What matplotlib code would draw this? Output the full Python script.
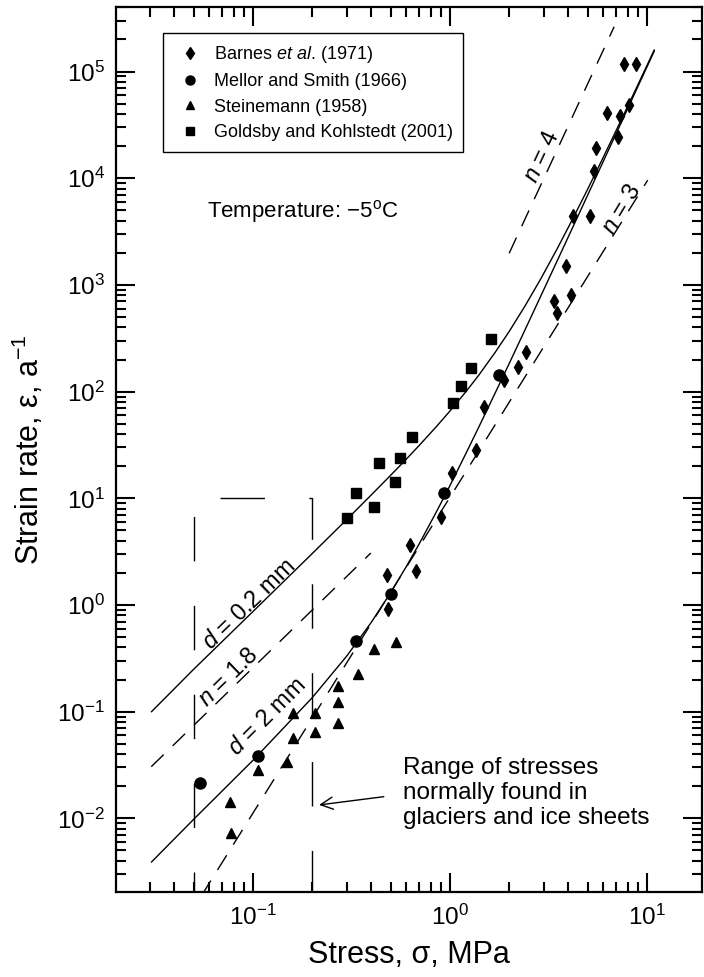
import matplotlib
matplotlib.use('Agg')
import matplotlib.pyplot as plt
from matplotlib.lines import Line2D
from matplotlib.ticker import LogLocator, NullFormatter, FixedLocator, FixedFormatter

plt.rcParams['font.family'] = ['Liberation Sans', 'DejaVu Sans']
plt.rcParams['mathtext.fontset'] = 'custom'
plt.rcParams['mathtext.rm'] = 'Liberation Sans'
plt.rcParams['mathtext.it'] = 'Liberation Sans:italic'
plt.rcParams['mathtext.bf'] = 'Liberation Sans:bold'
plt.rcParams['lines.scale_dashes'] = False

# ---------------- data ----------------
barnes_stress = [7.67, 8.83, 6.26, 7.27, 8.1, 7.1, 5.51, 5.4, 4.23, 5.16, 3.9, 4.1,
                 3.36, 3.49, 2.43, 2.21, 1.89, 1.49, 1.355, 1.03, 0.90, 0.63, 0.672,
                 0.479, 0.486]
barnes_rate = [1.17e5, 1.17e5, 4.11e4, 3.83e4, 4.82e4, 2.45e4, 1.91e4, 1.17e4, 4.42e3,
               4.42e3, 1.51e3, 800, 700, 540, 237, 171, 128, 72, 28.4, 17.1, 6.72, 3.65,
               2.1, 1.91, 0.911]

mellor_stress = [0.054, 0.106, 0.333, 0.501, 0.929, 1.78]
mellor_rate = [0.0213, 0.0384, 0.463, 1.26, 11.3, 143]

stein_stress = [0.532, 0.41, 0.342, 0.269, 0.269, 0.269, 0.159, 0.206, 0.206, 0.159,
                0.149, 0.106, 0.0767, 0.0774]
stein_rate = [0.453, 0.384, 0.226, 0.174, 0.124, 0.0789, 0.098, 0.098, 0.065, 0.057,
              0.034, 0.0284, 0.0143, 0.00724]

goldsby_stress = [1.61, 1.28, 1.137, 1.04, 0.641, 0.438, 0.56, 0.526, 0.333, 0.41, 0.299]
goldsby_rate = [309, 165, 113, 77.6, 37.8, 21.6, 23.7, 14.3, 11.3, 8.35, 6.58]

curve_stress = [0.0306, 0.05, 0.1, 0.2, 0.3, 0.4, 0.5, 0.6, 0.7, 0.85, 1.0, 1.2, 1.4,
                1.7, 2.0, 2.4, 2.9, 3.5, 4.2, 5.0, 6.0, 7.5, 9.0, 10.9]
d02_rate = [0.100, 0.249, 0.866, 3.03, 6.34, 10.8, 16.4, 23.2, 31.4, 46.5, 65.6, 98.6,
            142, 234, 366, 629, 1149, 2170, 4150, 7860, 15630, 36850, 75000, 159300]
d2_rate = [0.0039, 0.00977, 0.0349, 0.135, 0.333, 0.691, 1.30, 2.28, 3.76, 7.33, 13.1,
           25.8, 46.2, 97.4, 183, 375, 792, 1671, 3451, 6914, 14310, 34880, 72280, 155450]

n18_stress = [0.0305, 0.397]
n18_rate = [0.0305, 3.07]
n3_stress = [0.055, 10.1]
n3_rate = [0.0019, 9.6e3]
n4_stress = [2.0, 6.82]
n4_rate = [1.98e3, 2.63e5]

range_stress = [0.05, 0.05, 0.2, 0.2]
range_top = 10.0

x_ticks = [0.1, 1, 10]
x_ticklabels = ['$10^{−1}$', '$10^{0}$', '$10^{1}$']
y_ticks = [1e-2, 1e-1, 1e0, 1e1, 1e2, 1e3, 1e4, 1e5]
y_ticklabels = ['$10^{−2}$', '$10^{−1}$', '$10^{0}$', '$10^{1}$', '$10^{2}$',
                '$10^{3}$', '$10^{4}$', '$10^{5}$']

legend_labels = ['Barnes $\\it{et\\ al}$. (1971)', 'Mellor and Smith (1966)',
                 'Steinemann (1958)', 'Goldsby and Kohlstedt (2001)']

XLIM = (0.0202, 19.05)
YLIM = (0.00204, 4.03e5)

# ---------------- figure ----------------
W, H = 704, 977
fig = plt.figure(figsize=(W / 100, H / 100), dpi=100)
L, R, T, B = 116, 702, 7, 892
ax = fig.add_axes([L / W, (H - B) / H, (R - L) / W, (B - T) / H])
ax.set_xscale('log')
ax.set_yscale('log')
ax.set_xlim(*XLIM)
ax.set_ylim(*YLIM)

# curves
ax.plot(curve_stress, d02_rate, color='k', lw=1.0, zorder=2)
ax.plot(curve_stress, d2_rate, color='k', lw=1.0, zorder=2)
dash = (0, (12.5, 9))
ax.plot(n18_stress, n18_rate, color='k', lw=1.0, ls=dash, zorder=2)
ax.plot(n3_stress, n3_rate, color='k', lw=1.0, ls=dash, zorder=2)
ax.plot(n4_stress, n4_rate, color='k', lw=1.0, ls=dash, zorder=2)

# range bracket
ax.plot(range_stress, [YLIM[0], range_top, range_top, YLIM[0]], color='k', lw=1.0,
        ls=(17.6, (32, 32)), zorder=2, clip_on=False)

# data points
ax.plot(barnes_stress, barnes_rate, ls='none', marker='d', ms=7.5, color='k', zorder=3)
ax.plot(mellor_stress, mellor_rate, ls='none', marker='o', ms=8, color='k', zorder=3)
ax.plot(stein_stress, stein_rate, ls='none', marker='^', ms=7.5, color='k', zorder=3)
ax.plot(goldsby_stress, goldsby_rate, ls='none', marker='s', ms=7.3, color='k', zorder=3)

# axes styling
for sp in ax.spines.values():
    sp.set_linewidth(1.6)
ax.xaxis.set_major_locator(FixedLocator(x_ticks))
ax.xaxis.set_major_formatter(FixedFormatter(x_ticklabels))
ax.yaxis.set_major_locator(FixedLocator(y_ticks))
ax.yaxis.set_major_formatter(FixedFormatter(y_ticklabels))
ax.xaxis.set_minor_locator(LogLocator(base=10, subs=range(2, 10), numticks=100))
ax.yaxis.set_minor_locator(LogLocator(base=10, subs=range(2, 10), numticks=100))
ax.xaxis.set_minor_formatter(NullFormatter())
ax.yaxis.set_minor_formatter(NullFormatter())
ax.tick_params(which='both', direction='in', top=True, right=True, width=1.5)
ax.tick_params(which='major', length=13.5, labelsize=17.5)
ax.tick_params(which='minor', length=7.2)
ax.tick_params(axis='y', which='major', pad=8)
ax.tick_params(axis='x', which='major', pad=9)

ax.set_xlabel('Stress, σ, MPa', fontsize=22)
ax.set_ylabel('Strain rate, ε, a$^{−1}$', fontsize=22)
ax.yaxis.set_label_coords((28 - L) / (R - L), 0.5)
ax.xaxis.set_label_coords(0.5, -(955 - B) / (B - T))
ax.xaxis.label.set_va('center')
ax.yaxis.label.set_va('center')

# legend
handles = [Line2D([], [], ls='none', marker='d', ms=6, color='k'),
           Line2D([], [], ls='none', marker='o', ms=6.5, color='k'),
           Line2D([], [], ls='none', marker='^', ms=6, color='k'),
           Line2D([], [], ls='none', marker='s', ms=5.5, color='k')]
leg = ax.legend(handles, legend_labels, loc='upper left',
                bbox_to_anchor=((163 - L) / (R - L), (B - 33) / (B - T)),
                borderaxespad=0, frameon=True, fancybox=False, edgecolor='k',
                framealpha=1, fontsize=13, borderpad=0.6, handlelength=1.8,
                handletextpad=0.4, labelspacing=0.47)
leg.get_frame().set_linewidth(1.0)

# texts
ax.text((207 - L) / (R - L), (B - 212) / (B - T), 'Temperature: −5$^{\\rm o}$C',
        transform=ax.transAxes, fontsize=16, ha='left', va='center')
ax.text(2.93, 1.58e4, '$n$ = 4', rotation=65, fontsize=17, ha='center', va='center',
        rotation_mode='anchor')
ax.text(7.46, 5.04e3, '$n$ = 3', rotation=59, fontsize=17, ha='center', va='center',
        rotation_mode='anchor')
ax.text(0.0755, 0.211, '$n$ = 1.8', rotation=44.3, fontsize=17, ha='center',
        va='center', rotation_mode='anchor')
ax.text(0.0955, 1.0, '$d$ = 0.2 mm', rotation=44, fontsize=17, ha='center',
        va='center', rotation_mode='anchor')
ax.text(0.1188, 0.0898, '$d$ = 2 mm', rotation=45, fontsize=17, ha='center',
        va='center', rotation_mode='anchor')

ax.text(0.575, 0.0173, 'Range of stresses\nnormally found in\nglaciers and ice sheets',
        fontsize=17.5, ha='left', va='center', linespacing=1.2)
ax.annotate('', xy=(0.217, 0.01336), xytext=(0.462, 0.01596),
            arrowprops=dict(arrowstyle='->', lw=1.0, color='k', mutation_scale=22,
                            shrinkA=0, shrinkB=0))

fig.savefig('out.png', dpi=100)
